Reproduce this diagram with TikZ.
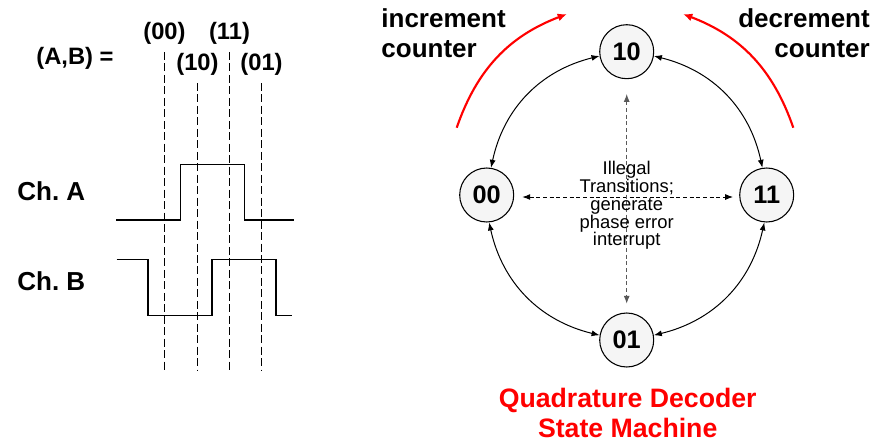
\documentclass[tikz,border=0pt]{standalone}
\usepackage{fontspec}
\setmainfont{Liberation Sans}
\usepackage{xcolor}
\usetikzlibrary{arrows.meta,positioning,calc}
\definecolor{qred}{RGB}{255,0,0}
\definecolor{stfill}{RGB}{245,245,245}
\frenchspacing

\begin{document}
\begin{tikzpicture}[x=0.75pt, y=-0.75pt,
	st/.style={draw, circle, line width=0.8pt, minimum size=40.5pt, inner sep=0pt, fill=stfill, font=\fontsize{19}{22}\selectfont\bfseries},
	arr/.style={{Latex[length=6pt,width=4.5pt]}-{Latex[length=6pt,width=4.5pt]}, line width=0.75pt},
	ill/.style={{Latex[length=6pt,width=4.5pt]}-{Latex[length=6pt,width=4.5pt]}, line width=0.75pt, dash pattern=on 3pt off 2pt},
	redarr/.style={-{Latex[length=7pt,width=6pt]}, line width=1.6pt, qred},
	wave/.style={line width=1pt},
	tick/.style={line width=0.9pt, dash pattern=on 6pt off 2.6pt},
	lbl/.style={font=\fontsize{17.8}{20}\selectfont\bfseries},
	big/.style={font=\fontsize{19.5}{22.5}\selectfont\bfseries}]
	\useasboundingbox (0,0) rectangle (884,443);
	% timing diagram
	\node[lbl] (AB) at (75,58) {(A,B) =};
	\node[big, anchor=west] (chA) at (12.7,191.5) {Ch. A};
	\node[big, anchor=west] (chB) at (12.7,281.5) {Ch. B};
	\foreach \x/\lbl/\top [count=\i] in {164.5/(00)/52,197.5/(10)/83,229.5/(11)/52,261.5/(01)/83}{
		\draw[tick] (\x,\top) -- (\x,371);
		\node[lbl] (t\i) at (\x,\top-19) {\lbl};}
	\draw[wave] (116,220) -- (180.3,220) -- (180.3,164.3) -- (244.3,164.3) -- (244.3,220) -- (294.3,220);
	\draw[wave] (116.7,259.7) -- (148,259.7) -- (148,315.7) -- (212,315.7) -- (212,259.7) -- (276,259.7) -- (276,315.7) -- (292.3,315.7);
	% state machine
	\node[st] (s10) at (626.7,51.7) {10};
	\node[st] (s00) at (486.7,195) {00};
	\node[st] (s11) at (766.7,195) {11};
	\node[st] (s01) at (626.7,340) {01};
	\draw[arr] (s10.189) to[bend right=32] (s00.81);
	\draw[arr] (s10.-9) to[bend left=32] (s11.99);
	\draw[arr] (s00.275) to[bend right=32] (s01.170);
	\draw[arr] (s11.265) to[bend left=32] (s01.10);
	\draw[ill, black, shorten <=6pt, shorten >=4.5pt] ([yshift=-1.5pt]s00.east) -- ([yshift=-1.5pt]s11.west);
	\draw[ill, black!65, shorten <=11pt, shorten >=6.5pt] (s10) -- (s01);
	\node[align=center, font=\fontsize{13.8}{13.4}\selectfont] (illegal) at (626.7,205.5) {Illegal\\Transitions;\\generate\\phase error\\interrupt};
	% counter arrows
	\coordinate (incS) at (456.7,127.7);
	\coordinate (incE) at (567,14);
	\coordinate (decS) at (793.3,127.7);
	\coordinate (decE) at (683,14);
	\draw[redarr] (incS) to[bend left=25] (incE);
	\draw[redarr] (decS) to[bend right=25] (decE);
	\node[big, align=left, anchor=west] (inc) at (376.7,33.3) {increment\\counter};
	\node[big, align=right, anchor=east] (dec) at (874.5,33.3) {decrement\\counter};
	\node[big, align=center, text=qred, font=\fontsize{20}{22.5}\selectfont\bfseries] (title) at (627.7,413) {Quadrature Decoder\\State Machine};
\end{tikzpicture}
\end{document}
